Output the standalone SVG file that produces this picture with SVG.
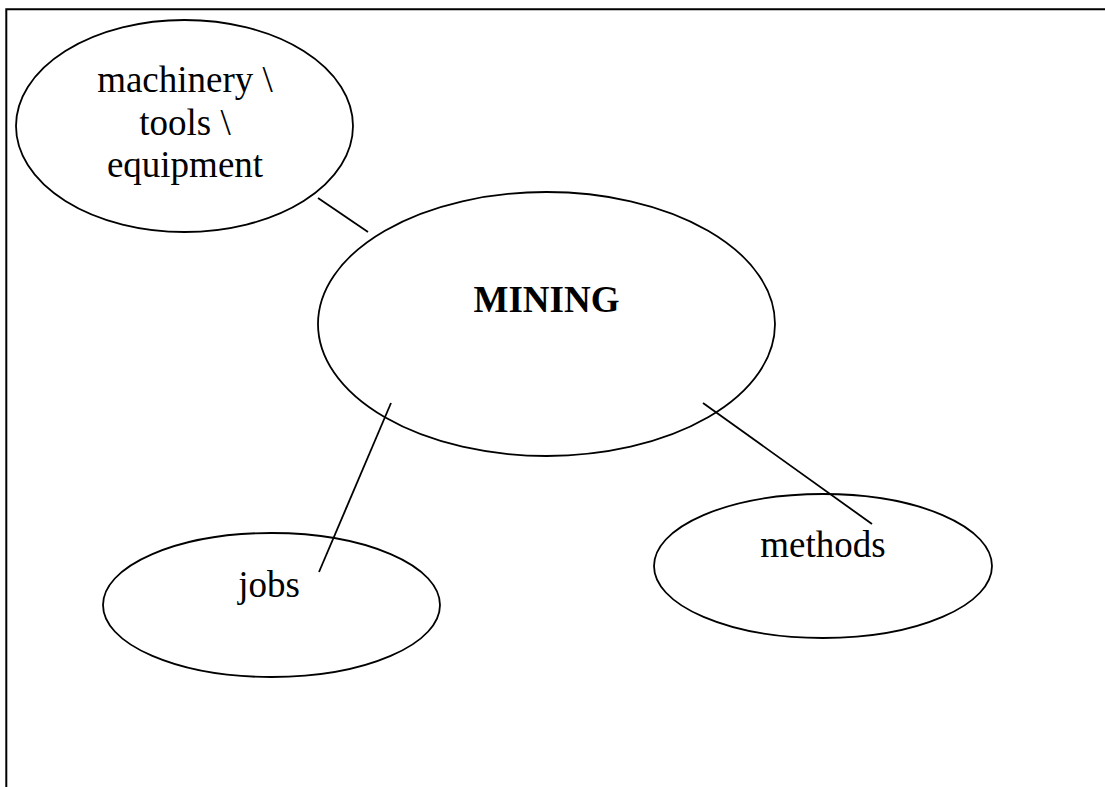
<svg xmlns="http://www.w3.org/2000/svg" width="1105" height="787" viewBox="0 0 1105 787">
<style>
.node ellipse{fill:#fff;stroke:#000;stroke-width:1.8}
.lbl{font-family:"Liberation Serif","Times New Roman",serif;font-size:37px;fill:#000;text-anchor:middle}
.b{font-weight:bold}
#connectors line{stroke:#000;stroke-width:1.8}
.frame{stroke:#000;stroke-width:2;fill:none}
</style>
<rect width="1105" height="787" fill="#fff"/>
<path class="frame" d="M6.3,787 V9.3 H1105"/>
<g id="node-machinery" class="node">
<ellipse cx="184.5" cy="126" rx="168.5" ry="106"/>
<text class="lbl" x="185" y="92">machinery \</text>
<text class="lbl" x="185" y="135">tools \</text>
<text class="lbl" x="185" y="177">equipment</text>
</g>
<g id="node-mining" class="node">
<ellipse cx="546.5" cy="324" rx="228.5" ry="132"/>
<text class="lbl b" x="546.5" y="312">MINING</text>
</g>
<g id="node-jobs" class="node">
<ellipse cx="271.5" cy="605" rx="168.5" ry="72"/>
<text class="lbl" x="269" y="597">jobs</text>
</g>
<g id="node-methods" class="node">
<ellipse cx="823" cy="566" rx="169" ry="72"/>
<text class="lbl" x="823" y="557">methods</text>
</g>
<g id="connectors">
<line x1="318" y1="198" x2="368" y2="232"/>
<line x1="391" y1="403" x2="319" y2="572"/>
<line x1="703" y1="403" x2="872" y2="524"/>
</g>
</svg>
